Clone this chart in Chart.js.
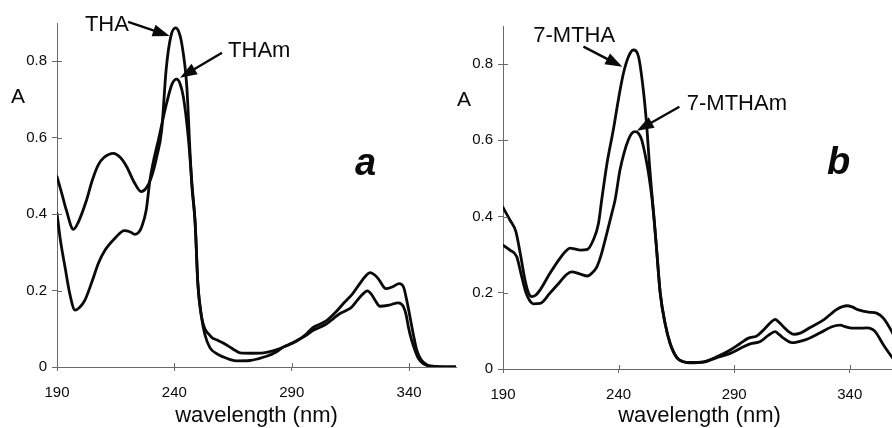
<!DOCTYPE html>
<html>
<head>
<meta charset="utf-8">
<script src="https://cdn.jsdelivr.net/npm/chart.js@4.4.1/dist/chart.umd.min.js"></script>
<style>
  html, body { margin: 0; padding: 0; background: #fff; width: 892px; height: 428px; overflow: hidden; }
  canvas { position: absolute; top: 0; }
  #cha { left: 0; }
  #chb { left: 446px; }
</style>
</head>
<body>
<canvas id="cha" width="460" height="428"></canvas>
<canvas id="chb" width="454" height="428"></canvas>
<script>
// UV spectra, absorbance vs wavelength (nm)
const xTicks = [190, 240, 290, 340];
const yTicks = [0, 0.2, 0.4, 0.6, 0.8];

// panel a
const thaWl = [190, 192, 194, 197, 199, 202.6, 205, 207.6, 210, 214, 217, 219.7, 223, 225.8, 228, 230.3, 232.5, 234.6, 236.5, 238.5, 240.6, 242, 243.1, 245.3, 246.7, 247.5, 248.8, 250, 251.6, 253, 254.5, 256, 258, 261, 263.7, 266, 268, 273, 278, 282, 285, 288, 292, 296, 299, 302, 305, 309, 312, 316, 319, 321.5, 323.4, 325.5, 327, 330.2, 333, 335.8, 337.6, 339, 340.4, 342, 343.3, 345, 347.5, 350, 355, 360];
const thaA = [0.498, 0.455, 0.41, 0.36, 0.378, 0.437, 0.488, 0.529, 0.548, 0.559, 0.548, 0.524, 0.482, 0.459, 0.468, 0.498, 0.55, 0.62, 0.778, 0.865, 0.887, 0.875, 0.848, 0.734, 0.559, 0.47, 0.385, 0.219, 0.131, 0.1, 0.087, 0.077, 0.071, 0.062, 0.052, 0.043, 0.037, 0.036, 0.037, 0.042, 0.048, 0.056, 0.068, 0.085, 0.103, 0.112, 0.122, 0.145, 0.166, 0.192, 0.218, 0.238, 0.247, 0.24, 0.23, 0.205, 0.21, 0.218, 0.21, 0.175, 0.131, 0.08, 0.044, 0.02, 0.006, 0.002, 0, 0];

const thamWl = [190, 191.5, 193.4, 195.5, 197.7, 199.5, 201.9, 205, 207.6, 210.5, 214.7, 218.7, 221, 223.2, 224.8, 226.1, 228, 229.6, 231.5, 233.2, 236.7, 239, 241, 242.5, 243.8, 245.9, 247.6, 249, 250, 251.6, 253, 255.2, 258, 260.9, 263.5, 266.6, 272.2, 276, 279.3, 283, 286.4, 290, 292, 296, 299.2, 302, 304.9, 308, 310.6, 313, 315.6, 318, 320.5, 322.2, 324, 325.8, 327.6, 331.5, 335.4, 337.6, 338.8, 339.7, 341, 342.5, 344, 346, 349, 355, 360];
const thamA = [0.402, 0.33, 0.262, 0.19, 0.149, 0.155, 0.175, 0.225, 0.271, 0.306, 0.337, 0.357, 0.354, 0.347, 0.352, 0.367, 0.41, 0.489, 0.55, 0.594, 0.69, 0.74, 0.753, 0.74, 0.708, 0.603, 0.472, 0.36, 0.22, 0.13, 0.085, 0.05, 0.035, 0.026, 0.02, 0.016, 0.017, 0.022, 0.028, 0.038, 0.052, 0.062, 0.068, 0.082, 0.096, 0.104, 0.113, 0.128, 0.14, 0.147, 0.157, 0.175, 0.192, 0.199, 0.19, 0.172, 0.159, 0.162, 0.168, 0.158, 0.135, 0.105, 0.072, 0.044, 0.022, 0.009, 0.002, 0, 0];

// panel b
const mthaWl = [190, 193, 195.6, 197.7, 199.5, 201, 202.4, 204, 206, 210.3, 214.7, 217, 219, 221, 223.4, 226.5, 229.1, 231.3, 232.7, 235, 237.7, 240, 242.1, 244.3, 246.4, 248.6, 250.7, 252.2, 253.3, 254.4, 255.4, 256.5, 258, 260.1, 262.3, 265.2, 268, 271, 276.7, 282.5, 288.3, 292.6, 296.2, 299.8, 303.4, 305.8, 307.7, 309.5, 311.3, 313.5, 315.7, 318.6, 322.9, 328.7, 334.5, 338.8, 341, 343.8, 348.1, 351.8, 354.6, 358.2, 360];
const mthaA = [0.424, 0.391, 0.36, 0.295, 0.234, 0.2, 0.19, 0.193, 0.207, 0.251, 0.291, 0.308, 0.317, 0.315, 0.312, 0.314, 0.339, 0.382, 0.444, 0.54, 0.627, 0.71, 0.776, 0.82, 0.837, 0.82, 0.732, 0.636, 0.54, 0.46, 0.39, 0.31, 0.2, 0.12, 0.067, 0.03, 0.019, 0.017, 0.019, 0.032, 0.05, 0.067, 0.081, 0.087, 0.107, 0.122, 0.13, 0.122, 0.111, 0.098, 0.091, 0.094, 0.109, 0.129, 0.157, 0.166, 0.163, 0.155, 0.149, 0.146, 0.133, 0.098, 0.075];

const mthamWl = [190, 193, 195.9, 198.1, 200, 201.7, 203.1, 206, 210.3, 214.7, 217.5, 219.7, 223.4, 226.5, 228.5, 230.6, 232.5, 234.2, 237.1, 238.5, 240.6, 242.5, 244.2, 245.7, 247.1, 248.6, 250, 252.2, 253.3, 254.4, 255.4, 256.5, 258, 260.1, 262.3, 265.2, 268, 271, 276.7, 282.5, 288.3, 292.6, 296.9, 301.3, 304.9, 307.7, 309.5, 311.3, 315, 318, 321.5, 327.2, 332.3, 335.9, 338, 340.9, 344, 347.4, 349.5, 351, 354.6, 358.2, 360];
const mthamA = [0.325, 0.312, 0.295, 0.242, 0.199, 0.178, 0.171, 0.172, 0.199, 0.229, 0.248, 0.255, 0.249, 0.244, 0.252, 0.268, 0.3, 0.339, 0.409, 0.444, 0.522, 0.57, 0.601, 0.618, 0.623, 0.618, 0.601, 0.54, 0.5, 0.45, 0.39, 0.31, 0.2, 0.12, 0.067, 0.03, 0.019, 0.016, 0.018, 0.03, 0.041, 0.054, 0.066, 0.072, 0.089, 0.098, 0.09, 0.081, 0.069, 0.072, 0.078, 0.095, 0.111, 0.115, 0.111, 0.107, 0.107, 0.108, 0.105, 0.098, 0.063, 0.032, 0.02];

const ink = '#0a0a0a';
const axisColor = '#6a6a6a';
const family = '"Liberation Sans", Arial, sans-serif';

// label text, where it sits and where its arrow points (data units)
const notesA = [
  { text: 'THA', at: [201.9, 0.878], from: [220.3, 0.903], to: [238.0, 0.866] },
  { text: 'THAm', at: [262.9, 0.811], from: [260.3, 0.822], to: [242.4, 0.757] }
];
const notesB = [
  { text: '7-MTHA', at: [203.1, 0.859], from: [224.8, 0.846], to: [241.6, 0.793] },
  { text: '7-MTHAm', at: [269.5, 0.680], from: [266.3, 0.688], to: [247.9, 0.625] }
];

const toPts = (wl, a) => wl.map((w, i) => ({ x: w, y: a[i] }));

const arrow = (ctx, x0, y0, x1, y1) => {
  const ang = Math.atan2(y1 - y0, x1 - x0), len = 17, hw = 6;
  const c = Math.cos(ang), s = Math.sin(ang);
  const bx = x1 - len * c, by = y1 - len * s;
  ctx.lineWidth = 2.4;
  ctx.beginPath(); ctx.moveTo(x0, y0); ctx.lineTo(bx + 2 * c, by + 2 * s); ctx.stroke();
  ctx.beginPath();
  ctx.moveTo(x1, y1);
  ctx.lineTo(bx + hw * s, by - hw * c);
  ctx.lineTo(bx - hw * s, by + hw * c);
  ctx.closePath(); ctx.fill();
};

// inner tick halves, "A" label, panel letter and the arrowed labels
const decor = {
  id: 'decor',
  afterDraw(chart, args, o) {
    const { ctx, chartArea: ca, scales: { x, y } } = chart;
    ctx.save();
    ctx.strokeStyle = axisColor; ctx.lineWidth = 1;
    ctx.beginPath();
    xTicks.forEach(v => { const px = Math.round(x.getPixelForValue(v)) + .5; ctx.moveTo(px, ca.bottom); ctx.lineTo(px, ca.bottom - 4); });
    yTicks.forEach(v => { const py = Math.round(y.getPixelForValue(v)) + .5; ctx.moveTo(ca.left, py); ctx.lineTo(ca.left + 5, py); });
    ctx.stroke();

    ctx.fillStyle = ink; ctx.strokeStyle = ink;
    ctx.font = `21px ${family}`; ctx.textAlign = 'center'; ctx.textBaseline = 'middle';
    ctx.fillText('A', ca.left - 39, y.getPixelForValue(0.705));

    ctx.textAlign = 'left'; ctx.textBaseline = 'alphabetic';
    ctx.font = `italic bold 38px ${family}`;
    ctx.fillText(o.letter, x.getPixelForValue(o.letterAt[0]), y.getPixelForValue(o.letterAt[1]));

    ctx.font = `22px ${family}`;
    o.notes.forEach(n => {
      ctx.fillText(n.text, x.getPixelForValue(n.at[0]), y.getPixelForValue(n.at[1]));
      arrow(ctx, x.getPixelForValue(n.from[0]), y.getPixelForValue(n.from[1]), x.getPixelForValue(n.to[0]), y.getPixelForValue(n.to[1]));
    });
    ctx.restore();
  }
};

const line = (wl, a) => ({
  data: toPts(wl, a), borderColor: ink, borderWidth: 2.8, pointRadius: 0,
  cubicInterpolationMode: 'monotone', borderJoinStyle: 'round', borderCapStyle: 'round', fill: false
});

const makePanel = (id, series, top, axisH, right, letter, letterAt, notes) => new Chart(document.getElementById(id), {
  type: 'line',
  data: { datasets: series },
  plugins: [decor],
  options: {
    responsive: false, animation: false, devicePixelRatio: 1,
    layout: { padding: { top, right, left: 0, bottom: 0 } },
    plugins: { legend: { display: false }, tooltip: { enabled: false }, decor: { letter, letterAt, notes } },
    scales: {
      x: {
        type: 'linear', min: 190, max: 360,
        afterBuildTicks: s => { s.ticks = xTicks.map(v => ({ value: v })); },
        afterFit: s => { s.height = axisH; },
        grid: { drawOnChartArea: false, drawTicks: true, tickLength: 4, color: axisColor },
        border: { color: axisColor, width: 1 },
        ticks: { color: ink, font: { family, size: 15 }, padding: 13, maxRotation: 0 },
        title: { display: true, text: 'wavelength (nm)', color: ink, font: { family, size: 22, lineHeight: 1.1 }, padding: 0 }
      },
      y: {
        min: 0, max: 0.9,
        afterBuildTicks: s => { s.ticks = yTicks.map(v => ({ value: v })); },
        afterFit: s => { s.width = 57; },
        grid: { drawOnChartArea: false, drawTicks: true, tickLength: 5, color: axisColor },
        border: { color: axisColor, width: 1 },
        ticks: { color: ink, font: { family, size: 15 }, padding: 5, callback: v => v === 0 ? '0' : v.toFixed(1) }
      }
    }
  }
});

makePanel('cha', [line(thaWl, thaA), line(thamWl, thamA)], 23, 61, 4, 'a', [317, 0.502], notesA);
makePanel('chb', [line(mthaWl, mthaA), line(mthamWl, mthamA)], 26, 59, 4, 'b', [330.1, 0.512], notesB);
</script>
</body>
</html>
